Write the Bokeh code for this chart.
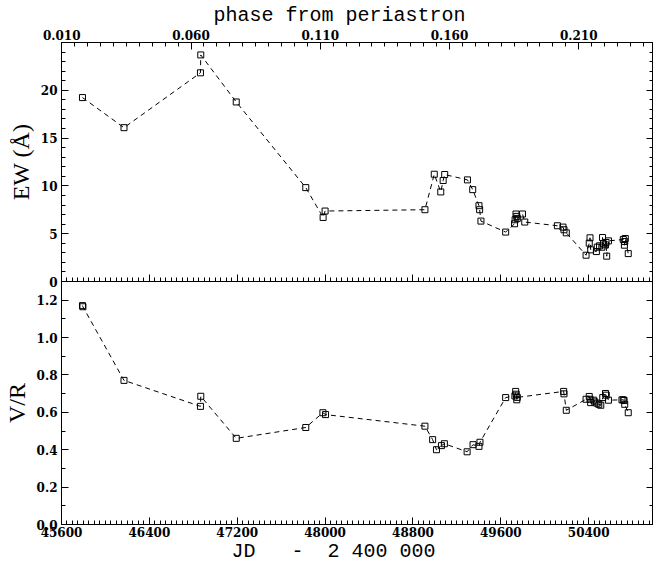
from bokeh.plotting import figure
from bokeh.layouts import column
from bokeh.models import Range1d, LinearAxis, FixedTicker, NumeralTickFormatter
from bokeh.embed import file_html
from bokeh.resources import INLINE

# ---- data ----
jd_ew = [45791, 46169, 46865, 46868, 47191, 47824, 47982, 48000, 48909,
         48994, 49053, 49075, 49089, 49296, 49344, 49401, 49407, 49419,
         49644, 49725, 49730, 49738, 49745, 49750, 49797, 49818,
         50115, 50166, 50175, 50196, 50376, 50405, 50412, 50418, 50470,
         50478, 50499, 50520, 50526, 50535, 50553, 50558, 50564, 50580,
         50715, 50725, 50728, 50733, 50760]
ew = [19.24, 16.09, 21.83, 23.70, 18.78, 9.82, 6.70, 7.37, 7.51,
      11.22, 9.37, 10.56, 11.19, 10.63, 9.61, 7.93, 7.51, 6.32,
      5.17, 6.04, 6.46, 7.06, 6.81, 6.60, 7.06, 6.22,
      5.83, 5.69, 5.41, 5.09, 2.75, 4.01, 4.57, 3.31, 3.13,
      3.59, 3.73, 3.59, 4.60, 3.94, 3.83, 4.08, 2.65, 4.25,
      4.39, 3.80, 4.18, 4.50, 2.92]

jd_vr = [45791, 45795, 46169, 46865, 46868, 47191, 47824, 47980, 48004,
         48909, 48979, 49014, 49059, 49086, 49293, 49347, 49401, 49410,
         49644, 49728, 49735, 49740, 49745, 49750, 50172, 50175, 50196,
         50376, 50405, 50412, 50418, 50445, 50455, 50475, 50492, 50510,
         50528, 50553, 50560, 50580, 50703, 50715, 50722, 50728, 50760]
vr = [1.171, 1.165, 0.771, 0.632, 0.686, 0.461, 0.519, 0.598, 0.588,
      0.526, 0.454, 0.400, 0.422, 0.432, 0.389, 0.427, 0.418, 0.440,
      0.679, 0.688, 0.712, 0.697, 0.667, 0.680, 0.712, 0.699, 0.611,
      0.670, 0.685, 0.670, 0.652, 0.665, 0.656, 0.649, 0.643, 0.638,
      0.679, 0.701, 0.692, 0.665, 0.667, 0.667, 0.663, 0.643, 0.598]

# ---- axes / ticks ----
JD_START, JD_END = 45600, 50990
PHASE_AT_START = 0.0099
PERIOD_DAYS = 23536
EW_MAX = 25
VR_MAX = 1.3

jd_major = [45600, 46400, 47200, 48000, 48800, 49600, 50400]
jd_minor = list(range(45600, 51000, 50))
phase_major = [0.010, 0.060, 0.110, 0.160, 0.210]
phase_minor = [round(0.010 + 0.005 * i, 3) for i in range(0, 47)]
ew_major = [0, 5, 10, 15, 20]
ew_minor = list(range(0, 26))
vr_major = [0.0, 0.2, 0.4, 0.6, 0.8, 1.0, 1.2]
vr_minor = [round(0.1 * i, 1) for i in range(14)]

NB = "\u00a0"
TITLE_TOP = "phase from periastron" + NB * 3
TITLE_BOTTOM = "JD" + NB * 3 + "-" + NB * 2 + "2 400 000" + NB * 4

TICK_FONT = "DejaVu Serif"


def style_axis(ax, labels=True):
    ax.axis_line_color = "black"
    ax.axis_line_width = 1
    ax.major_tick_in = 7
    ax.major_tick_out = 0
    ax.minor_tick_in = 4
    ax.minor_tick_out = 0
    ax.major_tick_line_color = "black"
    ax.minor_tick_line_color = "black"
    ax.axis_label_text_color = "black"
    if labels:
        ax.major_label_text_font = TICK_FONT
        ax.major_label_text_font_style = "bold"
        ax.major_label_text_font_size = "12px"
        ax.major_label_text_color = "black"
        ax.major_label_standoff = 4
    else:
        ax.major_label_text_font_size = "0px"
        ax.major_label_standoff = 0
        ax.major_label_text_alpha = 0
        ax.major_label_text_color = None


ph_end = PHASE_AT_START + (JD_END - JD_START) / PERIOD_DAYS

top = figure(width=653, height=289, output_backend="svg", toolbar_location=None,
             x_range=Range1d(JD_START, JD_END), y_range=Range1d(0, EW_MAX),
             x_axis_location=None, y_axis_location="left",
             min_border_left=53, min_border_right=0, min_border_top=36,
             min_border_bottom=8)
top.extra_x_ranges = {"phase": Range1d(PHASE_AT_START, ph_end)}
top.grid.visible = False
top.outline_line_color = "black"
top.background_fill_color = "white"
top.border_fill_color = None

ly = top.yaxis[0]
style_axis(ly)
ly.ticker = FixedTicker(ticks=ew_major, minor_ticks=ew_minor)
ly.axis_label = "EW (Å)"
ly.axis_label_text_font = "Liberation Serif"
ly.axis_label_text_font_style = "normal"
ly.axis_label_text_font_size = "24px"
ly.axis_label_standoff = 4

ph_ax = LinearAxis(x_range_name="phase",
                   ticker=FixedTicker(ticks=phase_major, minor_ticks=phase_minor),
                   formatter=NumeralTickFormatter(format="0.000"))
style_axis(ph_ax)
ph_ax.major_label_standoff = 3
ph_ax.axis_label = TITLE_TOP
ph_ax.axis_label_text_font = "Liberation Mono"
ph_ax.axis_label_text_font_style = "normal"
ph_ax.axis_label_text_font_size = "20px"
ph_ax.axis_label_standoff = 0
top.add_layout(ph_ax, "above")

bt_ax = LinearAxis(ticker=FixedTicker(ticks=jd_major, minor_ticks=jd_minor))
style_axis(bt_ax, labels=False)
top.add_layout(bt_ax, "below")

rt_ax = LinearAxis(ticker=FixedTicker(ticks=ew_major + [25], minor_ticks=ew_minor))
style_axis(rt_ax, labels=False)
top.add_layout(rt_ax, "right")

top.line(jd_ew, ew, line_color="black", line_width=1, line_dash="5 4")
top.scatter(jd_ew, ew, marker="square", size=6, line_color="black",
            fill_alpha=0, line_width=1)

bot = figure(width=653, height=284, output_backend="svg", toolbar_location=None,
             x_range=top.x_range, y_range=Range1d(0, VR_MAX),
             x_axis_location="below", y_axis_location="left",
             min_border_left=53, min_border_right=0, min_border_top=0,
             min_border_bottom=30, margin=(-8, 0, 0, 0))
bot.grid.visible = False
bot.outline_line_color = "black"
bot.background_fill_color = "white"
bot.border_fill_color = None

bx = bot.xaxis[0]
style_axis(bx)
bx.ticker = FixedTicker(ticks=jd_major, minor_ticks=jd_minor)
bx.formatter = NumeralTickFormatter(format="0")
bx.major_label_standoff = 2
bx.axis_label = TITLE_BOTTOM
bx.axis_label_text_font = "Liberation Mono"
bx.axis_label_text_font_style = "normal"
bx.axis_label_text_font_size = "20px"
bx.axis_label_standoff = 0

by = bot.yaxis[0]
style_axis(by)
by.ticker = FixedTicker(ticks=vr_major, minor_ticks=vr_minor)
by.formatter = NumeralTickFormatter(format="0.0")
by.axis_label = "V/R"
by.axis_label_text_font = "Liberation Serif"
by.axis_label_text_font_style = "normal"
by.axis_label_text_font_size = "24px"
by.axis_label_standoff = 4

rb_ax = LinearAxis(ticker=FixedTicker(ticks=vr_major, minor_ticks=vr_minor))
style_axis(rb_ax, labels=False)
bot.add_layout(rb_ax, "right")

bot.line(jd_vr, vr, line_color="black", line_width=1, line_dash="5 4")
bot.scatter(jd_vr, vr, marker="square", size=6, line_color="black",
            fill_alpha=0, line_width=1)

layout = column(top, bot, spacing=0)
open("out.html", "w").write(file_html(layout, INLINE))
